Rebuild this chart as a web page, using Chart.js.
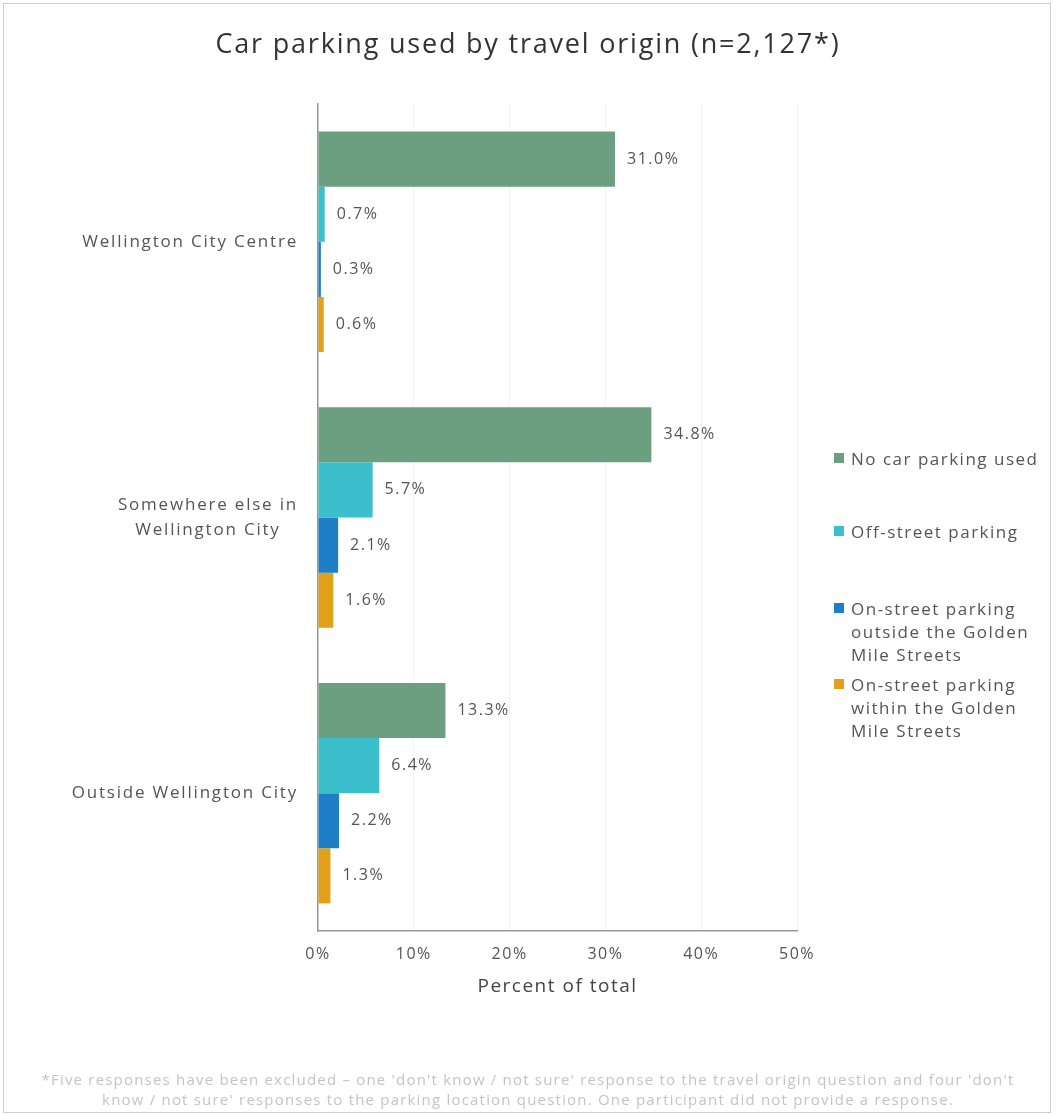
<!DOCTYPE html>
<html>
<head>
<meta charset="utf-8">
<script src="https://cdn.jsdelivr.net/npm/chart.js@4.4.0/dist/chart.umd.min.js"></script>
<style>
  body { margin: 0; background: #fff; font-family: "Open Sans", sans-serif; }
  #frame { position: absolute; left: 3px; top: 3px; width: 1046px; height: 1108px; border: 1px solid #cfcfcf; }
  #wrap { position: absolute; left: 0; top: 0; width: 1056px; height: 1115px; }
  #title { position: absolute; left: 0; width: 1056px; top: 24px; text-align: center; color: #333; font-size: 27px; line-height: 38px; letter-spacing: 1.8px; }
  #legend { position: absolute; left: 834px; top: 0; color: #555; font-size: 17px; line-height: 23px; letter-spacing: 1.5px; }
  #legend .item { position: absolute; left: 0; width: 220px; }
  #legend .sw { position: absolute; left: 0; top: 6px; width: 10px; height: 10px; }
  #legend .txt { position: absolute; left: 17px; white-space: nowrap; }
  #note { position: absolute; left: 0; width: 1056px; top: 1069px; text-align: center; color: #c4c4c4; font-size: 15px; line-height: 20px; letter-spacing: 1.2px; white-space: nowrap; }
</style>
</head>
<body>
<div id="frame"></div>
<div id="wrap"><canvas id="chart"></canvas></div>
<div id="title">Car parking used by travel origin (n=2,127*)</div>
<div id="legend"></div>
<div id="note">*Five responses have been excluded &ndash; one 'don't know / not sure' response to the travel origin question and four 'don't<br>know / not sure' responses to the parking location question. One participant did not provide a response.</div>
<script>
// chart data
const origins = [["Wellington City Centre"], ["Somewhere else in", "Wellington City"], ["Outside Wellington City"]];
const seriesNames = ["No car parking used", "Off-street parking", "On-street parking outside the Golden Mile Streets", "On-street parking within the Golden Mile Streets"];
const legendLines = [["No car parking used"], ["Off-street parking"], ["On-street parking", "outside the Golden", "Mile Streets"], ["On-street parking", "within the Golden", "Mile Streets"]];
const noParking = [31.0, 34.8, 13.3];
const offStreet = [0.7, 5.7, 6.4];
const onStreetOutside = [0.3, 2.1, 2.2];
const onStreetWithin = [0.6, 1.6, 1.3];
const colours = ["#6b9f80", "#3cbfcc", "#1f7fc6", "#e3a019"];
const xTicks = [0, 10, 20, 30, 40, 50];

const FONT = "'Open Sans', sans-serif";
const GREY = "#555";

// wider letter spacing for every canvas text
const spacing = {
  id: 'spacing',
  beforeDraw(chart) { chart.ctx.letterSpacing = '1.5px'; }
};

// value labels to the right of each bar
const valueLabels = {
  id: 'valueLabels',
  afterDatasetsDraw(chart) {
    const ctx = chart.ctx;
    ctx.save();
    ctx.letterSpacing = '1.5px';
    ctx.font = "16px " + FONT;
    ctx.fillStyle = GREY;
    ctx.textBaseline = 'middle';
    ctx.textAlign = 'left';
    chart.data.datasets.forEach((ds, i) => {
      chart.getDatasetMeta(i).data.forEach((bar, j) => {
        ctx.fillText(ds.data[j].toFixed(1) + '%', bar.x + 12, bar.y);
      });
    });
    ctx.restore();
  }
};

// category labels: block right aligned, lines centred inside block
const categoryLabels = {
  id: 'categoryLabels',
  afterDraw(chart) {
    const ctx = chart.ctx;
    const y = chart.scales.y;
    ctx.save();
    ctx.letterSpacing = '1.8px';
    ctx.font = "17px " + FONT;
    ctx.fillStyle = GREY;
    ctx.textBaseline = 'middle';
    ctx.textAlign = 'center';
    const right = y.right - 20;
    origins.forEach((lines, i) => {
      const cy = y.getPixelForValue(i);
      const w = Math.max(...lines.map(l => ctx.measureText(l).width));
      const lh = 25;
      lines.forEach((l, k) => {
        ctx.fillText(l, right - w / 2, cy + (k - (lines.length - 1) / 2) * lh);
      });
    });
    ctx.restore();
  }
};

const canvas = document.getElementById('chart');
canvas.width = 1056;
canvas.height = 1115;

new Chart(canvas, {
  type: 'bar',
  data: {
    labels: origins,
    datasets: [
      { label: seriesNames[0], data: noParking, backgroundColor: colours[0] },
      { label: seriesNames[1], data: offStreet, backgroundColor: colours[1] },
      { label: seriesNames[2], data: onStreetOutside, backgroundColor: colours[2] },
      { label: seriesNames[3], data: onStreetWithin, backgroundColor: colours[3] }
    ]
  },
  options: {
    indexAxis: 'y',
    responsive: false,
    animation: false,
    layout: { padding: { left: 0, right: 259, top: 104, bottom: 115 } },
    datasets: { bar: { barPercentage: 1, categoryPercentage: 0.8 } },
    plugins: {
      legend: { display: false },
      tooltip: { enabled: false },
      title: { display: false }
    },
    scales: {
      x: {
        min: 0,
        max: 50,
        afterBuildTicks: s => { s.ticks = xTicks.map(v => ({ value: v })); },
        afterFit: s => { s.height = 69; },
        grid: { color: '#f3f3f3', drawTicks: false },
        border: { color: '#999', width: 1.5 },
        ticks: {
          padding: 14,
          color: GREY,
          font: { family: FONT, size: 16 },
          callback: v => v + '%'
        },
        title: {
          display: true,
          text: 'Percent of total',
          color: '#444',
          font: { family: FONT, size: 19 },
          padding: { top: 4, bottom: 2 }
        }
      },
      y: {
        afterFit: s => { s.width = 318; },
        grid: { display: false, drawTicks: false },
        border: { color: '#999', width: 1.5 },
        ticks: { color: 'rgba(0,0,0,0)', font: { family: FONT, size: 17 } }
      }
    }
  },
  plugins: [spacing, valueLabels, categoryLabels]
});

// legend built from series names and colours
const legend = document.getElementById('legend');
const legendTops = [447, 520, 597, 673];
legendLines.forEach((lines, i) => {
  const item = document.createElement('div');
  item.className = 'item';
  item.style.top = legendTops[i] + 'px';
  item.innerHTML = '<div class="sw" style="background:' + colours[i] + '"></div><div class="txt">' + lines.join('<br>') + '</div>';
  legend.appendChild(item);
});
</script>
</body>
</html>
